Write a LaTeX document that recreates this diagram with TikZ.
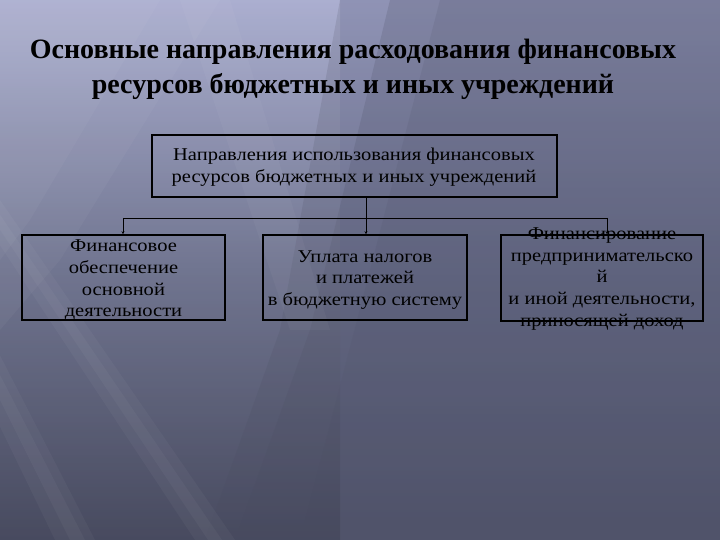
\documentclass[tikz,border=0pt]{standalone}
\usepackage{fontspec}
\setmainfont{Liberation Serif}
\newfontfamily\bodyfont[FakeStretch=1.14]{Liberation Serif}
\usetikzlibrary{arrows.meta,calc}
\definecolor{bgL}{HTML}{A2A6CB}
\definecolor{bgM}{HTML}{6F7492}
\definecolor{bgR}{HTML}{50536A}
\tikzset{
  box/.style={draw=black, line width=1.6pt, inner sep=0pt},
  boxtext/.style={align=center, font=\bodyfont\fontsize{18}{21.8}\selectfont, text=black, inner sep=0pt},
  link/.style={draw=black, line width=0.8pt},
  linkarr/.style={link, -{Stealth[length=3pt,width=3pt]}},
  streak/.style={white, opacity=0.035},
}
\begin{document}
\begin{tikzpicture}[x=1pt,y=-1pt]
\useasboundingbox (0,0) rectangle (720,540);
\begin{scope}
\clip (0,0) rectangle (720,540);
% background
\shade[left color=bgL, right color=bgR, middle color=bgM, shading angle=0] (0,0) rectangle (720,540);
\fill[bgR, opacity=0.22] (340,0) -- (720,0) -- (720,540) -- (205,540) -- (280,330) -- cycle;
\fill[bgR, opacity=0.22] (390,0) -- (720,0) -- (720,540) -- (235,540) -- (310,330) -- cycle;
\fill[bgR, opacity=0.15] (440,0) -- (720,0) -- (720,540) -- (300,540) -- cycle;
\shade[top color=white, bottom color=black, opacity=0.10] (0,0) rectangle (340,540);
\fill[streak] (0,0) -- (220,0) -- (60,260) -- (0,330) -- cycle;
\fill[streak] (0,0) -- (160,0) -- (30,220) -- (0,260) -- cycle;
\fill[streak] (-110,200) -- (-80,200) -- (95,540) -- (55,540) -- cycle;
\fill[streak] (-100,200) -- (-90,200) -- (85,540) -- (70,540) -- cycle;
\fill[streak] (-30,200) -- (0,200) -- (235,540) -- (195,540) -- cycle;
\fill[streak] (-20,200) -- (-10,200) -- (222,540) -- (208,540) -- cycle;
\fill[streak] (180,0) -- (230,0) -- (330,330) -- (290,330) -- cycle;
\end{scope}
% title
\node[font=\fontsize{28}{35}\selectfont\bfseries, align=center, text=black] (title) at (353,69.5)
  {Основные направления расходования финансовых\\ресурсов бюджетных и иных учреждений};
% top box
\node[box, minimum width=405pt, minimum height=62pt] (top) at (354.5,166) {};
\node[boxtext] (toptext) at (354,167) {Направления использования финансовых\\ресурсов бюджетных и иных учреждений};
% lower boxes
\node[box, minimum width=203pt, minimum height=85pt] (left) at (123.5,277.5) {};
\node[boxtext] (lefttext) at (123.5,280) {Финансовое\\обеспечение\\основной\\деятельности};
\node[box, minimum width=204pt, minimum height=85pt] (mid) at (365,277.5) {};
\node[boxtext] (midtext) at (365,280) {Уплата налогов\\и платежей\\в бюджетную систему};
\node[box, minimum width=202pt, minimum height=86pt] (right) at (602,278) {};
\node[boxtext] (righttext) at (602,279) {Финансирование\\предпринимательско\\й\\и иной деятельности,\\приносящей доход};
% connectors
\coordinate (hub) at (366,218);
\coordinate (hl) at (123,218);
\coordinate (hr) at (607,218);
\draw[link] (top.south -| hub) -- (hub);
\draw[link] (hl) -- (hr);
\draw[linkarr] (hl) -- (hl |- left.north);
\draw[linkarr] (hub) -- (hub |- mid.north);
\draw[linkarr] (hr) -- (hr |- right.north);
\end{tikzpicture}
\end{document}
